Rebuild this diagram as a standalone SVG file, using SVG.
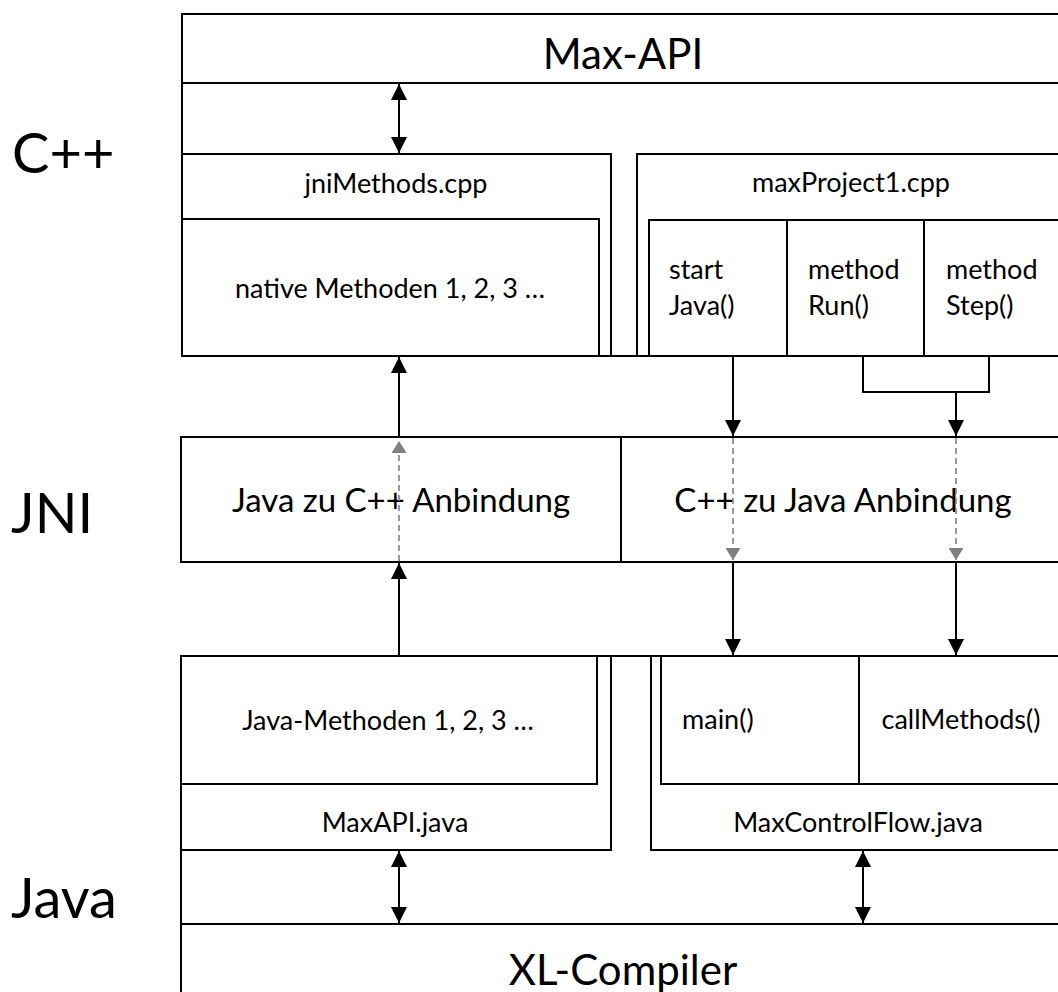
<svg xmlns="http://www.w3.org/2000/svg" width="1058" height="992" viewBox="0 0 1058 992">
  <style>
    .box { fill: #ffffff; stroke: #000000; stroke-width: 2; }
    .ln { fill: none; stroke: #000000; stroke-width: 2; }
    .dash { fill: none; stroke: #808080; stroke-width: 1.6; stroke-dasharray: 6 4; }
    text { font-family: Lato, "Open Sans", "Liberation Sans", sans-serif; fill: #000000; }
    .side { font-size: 56px; }
    .big { font-size: 42px; text-anchor: middle; }
    .mid { font-size: 33px; text-anchor: middle; }
    .sm { font-size: 27px; text-anchor: middle; }
    .sml { font-size: 27px; }
  </style>
  <defs>
    <marker id="ah" viewBox="0 0 16 16" refX="16" refY="8" markerWidth="16" markerHeight="16" markerUnits="userSpaceOnUse" orient="auto-start-reverse">
      <path d="M0,0 L16,8 L0,16 z" fill="#000000"/>
    </marker>
    <marker id="ahg" viewBox="0 0 12 15" refX="12" refY="7.5" markerWidth="12" markerHeight="15" markerUnits="userSpaceOnUse" orient="auto">
      <path d="M0,0 L12,7.5 L0,15 z" fill="#808080"/>
    </marker>
  </defs>

  <rect width="1058" height="992" fill="#ffffff"/>

  <g id="layer-labels">
    <text class="side" x="12" y="173">C++</text>
    <text class="side" x="11" y="533">JNI</text>
    <text class="side" x="11" y="918">Java</text>
  </g>

  <g id="cpp-frame">
    <rect class="box" x="182" y="14" width="900" height="342"/>
    <line class="ln" x1="182" y1="83" x2="1070" y2="83"/>
  </g>
  <g id="max-api">
    <text class="big" x="623" y="69">Max-API</text>
  </g>

  <g id="jniMethods-cpp">
    <rect class="box" x="182" y="154" width="429" height="202"/>
    <text class="sm" x="396" y="193">jniMethods.cpp</text>
  </g>
  <g id="native-methoden">
    <rect class="box" x="182" y="219" width="417" height="137"/>
    <text class="sm" x="390" y="298">native Methoden 1, 2, 3 …</text>
  </g>

  <g id="maxProject1-cpp">
    <rect class="box" x="637" y="154" width="500" height="202"/>
    <text class="sm" x="851" y="192">maxProject1.cpp</text>
  </g>
  <g id="startJava">
    <rect class="box" x="649" y="220" width="138" height="136"/>
    <text class="sml" x="669" y="279">start</text>
    <text class="sml" x="669" y="315">Java()</text>
  </g>
  <g id="methodRun">
    <rect class="box" x="787" y="220" width="137" height="136"/>
    <text class="sml" x="808" y="279">method</text>
    <text class="sml" x="808" y="315">Run()</text>
  </g>
  <g id="methodStep">
    <rect class="box" x="924" y="220" width="200" height="136"/>
    <text class="sml" x="946" y="279">method</text>
    <text class="sml" x="946" y="315">Step()</text>
  </g>

  <g id="java-zu-cpp">
    <rect class="box" x="181" y="437" width="440" height="125"/>
    <text class="mid" x="401" y="512">Java zu C++ Anbindung</text>
  </g>
  <g id="cpp-zu-java">
    <rect class="box" x="621" y="437" width="460" height="125"/>
    <text class="mid" x="843" y="512">C++ zu Java Anbindung</text>
  </g>

  <g id="java-frame">
    <rect class="box" x="181" y="656" width="900" height="400"/>
    <line class="ln" x1="181" y1="924" x2="1070" y2="924"/>
  </g>
  <g id="xl-compiler">
    <text class="big" x="623" y="985">XL-Compiler</text>
  </g>

  <g id="maxapi-java">
    <rect class="box" x="181" y="656" width="430" height="194"/>
    <text class="sm" x="395" y="832">MaxAPI.java</text>
  </g>
  <g id="java-methoden">
    <rect class="box" x="181" y="656" width="416" height="128"/>
    <text class="sm" x="388" y="730">Java-Methoden 1, 2, 3 …</text>
  </g>

  <g id="maxcontrolflow-java">
    <rect class="box" x="651" y="656" width="500" height="194"/>
    <text class="sm" x="858" y="832">MaxControlFlow.java</text>
  </g>
  <g id="main">
    <rect class="box" x="661" y="656" width="198" height="128"/>
    <text class="sml" x="682" y="729">main()</text>
  </g>
  <g id="callMethods">
    <rect class="box" x="859" y="656" width="260" height="128"/>
    <text class="sm" x="961" y="729">callMethods()</text>
  </g>

  <g id="connectors">
    <line class="ln" x1="399" y1="84" x2="399" y2="153" marker-start="url(#ah)" marker-end="url(#ah)"/>
    <line class="ln" x1="399" y1="437" x2="399" y2="357" marker-end="url(#ah)"/>
    <line class="dash" x1="399" y1="561" x2="399" y2="441" marker-end="url(#ahg)"/>
    <line class="ln" x1="399" y1="656" x2="399" y2="563" marker-end="url(#ah)"/>

    <line class="ln" x1="733" y1="356" x2="733" y2="436" marker-end="url(#ah)"/>
    <line class="dash" x1="733" y1="438" x2="733" y2="560" marker-end="url(#ahg)"/>
    <line class="ln" x1="733" y1="562" x2="733" y2="655" marker-end="url(#ah)"/>

    <path class="ln" d="M863,356 V392 H989 V356"/>
    <line class="ln" x1="956" y1="392" x2="956" y2="436" marker-end="url(#ah)"/>
    <line class="dash" x1="956" y1="438" x2="956" y2="560" marker-end="url(#ahg)"/>
    <line class="ln" x1="956" y1="562" x2="956" y2="655" marker-end="url(#ah)"/>

    <line class="ln" x1="399" y1="851" x2="399" y2="923" marker-start="url(#ah)" marker-end="url(#ah)"/>
    <line class="ln" x1="863" y1="851" x2="863" y2="923" marker-start="url(#ah)" marker-end="url(#ah)"/>
  </g>
</svg>
